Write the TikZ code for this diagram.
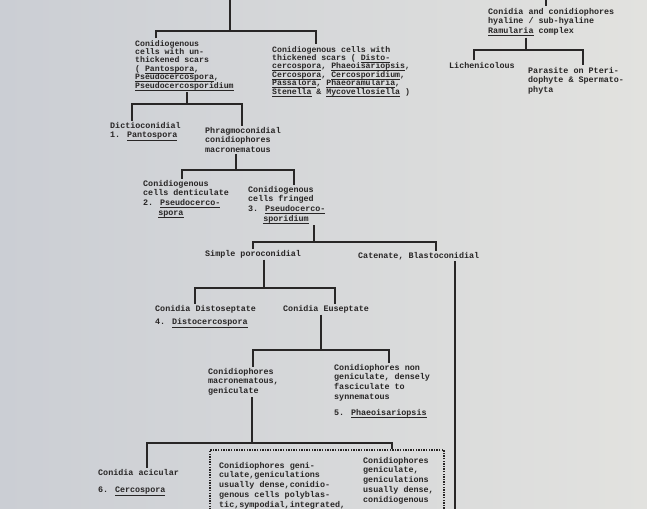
\documentclass[tikz,border=0pt]{standalone}
\usepackage{fontspec}
\usepackage{xcolor}
\usepackage{tikz}
\usetikzlibrary{positioning, fit}
\newfontfamily\typewriter{Liberation Mono}
\definecolor{paper}{RGB}{226,226,223}
\definecolor{paperedge}{RGB}{203,206,212}
\definecolor{ink}{RGB}{40,38,38}
\newcommand{\typeul}[1]{\setbox0\hbox{#1}\rlap{\rule[-2.3pt]{\wd0}{0.75pt}}\box0\relax}
\tikzset{
typed/.style = { font = \typewriter\bfseries\fontsize{8.4}{9.7}\selectfont, text = ink, align = left, anchor = north west, inner sep = 0pt },
tight/.style = { font = \typewriter\bfseries\fontsize{8.2}{8.4}\selectfont },
branch/.style = { draw = ink, line width = 1.1pt },
stem/.style = { draw = ink, line width = 1.1pt, shorten <= 1.5pt },
fork/.style = { draw = ink, line width = 1.1pt, shorten <= 1.5pt, shorten >= 1.5pt },
dotbox/.style = { rectangle, draw = ink, line width = 2pt, dash pattern = on 1.4pt off 1.2pt, inner sep = 0pt },
}

\begin{document}
\begin{tikzpicture}[x = 1pt, y = -1pt]
    \useasboundingbox (0, 0) rectangle (647, 508);
    \fill[left color = paperedge, right color = paper] (0, 0) rectangle (647, 508);
    % Ramularia side
    \node[typed] (ramu) at (488, 8) {Conidia and conidiophores\\hyaline / sub-hyaline\\\typeul{Ramularia} complex};
    \node[typed] (lichen) at (449, 62) {Lichenicolous};
    \node[typed] (pterid) at (528, 67) {Parasite on Pteri-\\dophyte \& Spermato-\\phyta};
    % main tree
    \node[typed, tight] (unthick) at (135, 40) {Conidiogenous\\cells with un-\\thickened scars\\( \typeul{Pantospora},\\\typeul{Pseudocercospora},\\\typeul{Pseudocercosporidium}};
    \node[typed, tight] (thick) at (272, 46) {Conidiogenous cells with\\thickened scars ( \typeul{Disto-}\\\typeul{cercospora}, \typeul{Phaeoisariopsis},\\\typeul{Cercospora}, \typeul{Cercosporidium},\\\typeul{Passalora}, \typeul{Phaeoramularia},\\\typeul{Stenella} \& \typeul{Mycovellosiella} )};
    \node[typed] (dictio) at (110, 122) {Dictioconidial\\1. \typeul{Pantospora}};
    \node[typed] (phrag) at (205, 127) {Phragmoconidial\\conidiophores\\macronematous};
    \node[typed] (dentic) at (143, 180) {Conidiogenous\\cells denticulate\\2. \typeul{Pseudocerco-}\\\hspace*{1.8em}\typeul{spora}};
    \node[typed] (fringe) at (248, 186) {Conidiogenous\\cells fringed\\3. \typeul{Pseudocerco-}\\\hspace*{1.8em}\typeul{sporidium}};
    \node[typed] (simple) at (205, 250) {Simple poroconidial};
    \node[typed] (caten) at (358, 252) {Catenate, Blastoconidial};
    \node[typed] (disto) at (155, 305) {Conidia Distoseptate\\[4pt]4. \typeul{Distocercospora}};
    \node[typed] (eusept) at (283, 305) {Conidia Euseptate};
    \node[typed] (macro) at (208, 368) {Conidiophores\\macronematous,\\geniculate};
    \node[typed] (nongen) at (334, 364) {Conidiophores non\\geniculate, densely\\fasciculate to\\synnematous\\[6pt]5. \typeul{Phaeoisariopsis}};
    \node[typed] (acic) at (98, 469) {Conidia acicular\\[8pt]6. \typeul{Cercospora}};
    \node[dotbox, fit = {(210, 450) (444, 540)}] (box) {};
    \node[typed] (boxL) at (219, 462) {Conidiophores geni-\\culate,geniculations\\usually dense,conidio-\\genous cells polyblas-\\tic,sympodial,integrated,};
    \node[typed] (boxR) at (363, 457) {Conidiophores\\geniculate,\\geniculations\\usually dense,\\conidiogenous};
    % connectors
    \coordinate (rTop) at (546, 0);
    \coordinate (rBar) at (526, 50);
    \coordinate (rL) at (474, 0);
    \coordinate (rR) at (583, 0);
    \draw[branch, shorten >= 1.5pt] (rTop) -- (ramu.north -| rTop);
    \draw[stem] (ramu.south -| rBar) -- (rBar);
    \draw[fork] (lichen.north -| rL) |- (rBar) -| (pterid.north -| rR);
    \coordinate (aTop) at (230, 0);
    \coordinate (aBar) at (230, 31);
    \coordinate (aL) at (156, 0);
    \coordinate (aR) at (316, 0);
    \draw[branch] (aTop) -- (aBar);
    \draw[fork] (unthick.north -| aL) |- (aBar) -| (thick.north -| aR);
    \coordinate (bBar) at (187, 104);
    \coordinate (bL) at (132, 0);
    \coordinate (bR) at (242, 0);
    \draw[stem] (unthick.south -| bBar) -- (bBar);
    \draw[fork] (dictio.north -| bL) |- (bBar) -| (phrag.north -| bR);
    \coordinate (cBar) at (236, 170);
    \coordinate (cL) at (182, 0);
    \coordinate (cR) at (294, 0);
    \draw[stem] (phrag.south -| cBar) -- (cBar);
    \draw[fork] (dentic.north -| cL) |- (cBar) -| (fringe.north -| cR);
    \coordinate (dBar) at (314, 242);
    \coordinate (dL) at (253, 0);
    \coordinate (dR) at (436, 0);
    \draw[stem] (fringe.south -| dBar) -- (dBar);
    \draw[fork] (simple.north -| dL) |- (dBar) -| (caten.north -| dR);
    \coordinate (catEnd) at (455, 520);
    \draw[stem] (caten.south -| catEnd) -- (catEnd);
    \coordinate (eBar) at (264, 288);
    \coordinate (eL) at (195, 0);
    \coordinate (eR) at (335, 0);
    \draw[stem] (simple.south -| eBar) -- (eBar);
    \draw[fork] (disto.north -| eL) |- (eBar) -| (eusept.north -| eR);
    \coordinate (fBar) at (321, 350);
    \coordinate (fL) at (253, 0);
    \coordinate (fR) at (389, 0);
    \draw[stem] (eusept.south -| fBar) -- (fBar);
    \draw[fork] (macro.north -| fL) |- (fBar) -| (nongen.north -| fR);
    \coordinate (gBar) at (252, 443);
    \coordinate (gL) at (147, 0);
    \coordinate (gR) at (392, 0);
    \draw[stem] (macro.south -| gBar) -- (gBar);
    \draw[branch, shorten <= 1.5pt] (acic.north -| gL) |- (gBar) -| (box.north -| gR);
\end{tikzpicture}
\end{document}
